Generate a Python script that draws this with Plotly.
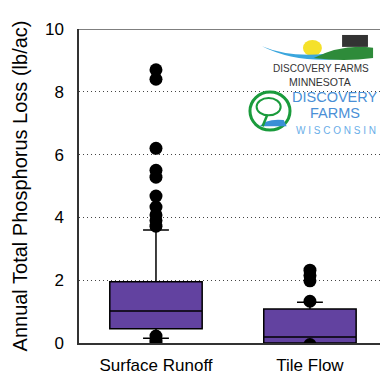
import plotly.graph_objects as go

categories = ["Surface Runoff", "Tile Flow"]
q1 = [0.45, 0.0]
median = [1.02, 0.19]
q3 = [1.95, 1.08]
lower_whisker = [0.15, 0.0]
upper_whisker = [3.6, 1.3]

outliers_surface = [8.7, 8.4, 6.2, 5.5, 5.28, 4.68, 4.33, 4.08, 3.9, 3.72, 0.22, 0.1, 0.02]
outliers_tile = [2.32, 2.15, 1.98, 1.33, -0.05]

y_ticks = [0, 2, 4, 6, 8, 10]

fig = go.Figure()
for i, c in enumerate(categories):
    fig.add_trace(go.Box(
        x=[c], q1=[q1[i]], median=[median[i]], q3=[q3[i]],
        lowerfence=[lower_whisker[i]], upperfence=[upper_whisker[i]],
        fillcolor="#6242a0", line=dict(color="black", width=1.5),
        width=0.6, whiskerwidth=0.28, boxpoints=False, showlegend=False,
    ))

fig.add_trace(go.Scatter(
    x=[categories[0]] * len(outliers_surface) + [categories[1]] * len(outliers_tile),
    y=outliers_surface + outliers_tile,
    mode="markers", marker=dict(color="black", size=13),
    showlegend=False, cliponaxis=True,
))

fig.update_layout(
    width=380, height=375,
    margin=dict(l=79, r=0, t=29, b=32),
    plot_bgcolor="white", paper_bgcolor="white",
    font=dict(family="Liberation Sans, Arial, sans-serif", color="black"),
    xaxis=dict(range=[-0.5, 1.455], showline=True, linecolor="#333", linewidth=1.5,
               ticks="", tickfont=dict(size=17), ticklabelstandoff=6, showgrid=False),
    yaxis=dict(range=[0, 10], tickvals=y_ticks, showline=True, linecolor="#333", linewidth=1.5,
               ticks="", tickfont=dict(size=17), ticklabelstandoff=10,
               showgrid=True, gridcolor="#444", griddash="1px,3px", gridwidth=1,
               zeroline=False,
               title=dict(text="Annual Total Phosphorus Loss (lb/ac)", font=dict(size=20), standoff=12)),
)

# top border
fig.add_shape(type="line", xref="paper", yref="y", x0=0, x1=1, y0=10, y1=10,
              line=dict(color="#555", width=1.5))

# logo approximation
P = dict(xref="paper", yref="paper")
fig.add_shape(type="circle", **P, x0=0.568, x1=0.701, y0=0.678, y1=0.799,
              line=dict(color="#1a9b3c", width=3), fillcolor="white")
fig.add_shape(type="path", **P,
              path="M 0.6 0.69 L 0.69 0.69 L 0.68 0.71 Q 0.62 0.715 0.6 0.69 Z",
              line=dict(width=0), fillcolor="#3a8fd6")
fig.add_shape(type="circle", **P, x0=0.59, x1=0.67, y0=0.725, y1=0.78,
              line=dict(color="#1a9b3c", width=2), fillcolor="white")
fig.add_shape(type="line", **P, x0=0.625, x1=0.61, y0=0.725, y1=0.69,
              line=dict(color="#1a9b3c", width=2.5))
fig.add_shape(type="circle", **P, x0=0.744, x1=0.807, y0=0.914, y1=0.965,
              line=dict(width=0), fillcolor="#f5e12a")
fig.add_shape(type="path", **P,
              path="M 0.608 0.945 Q 0.72 0.9 0.884 0.93 L 0.884 0.905 Q 0.72 0.89 0.608 0.945 Z",
              line=dict(width=0), fillcolor="#3aa6dd")
fig.add_shape(type="path", **P,
              path="M 0.78 0.908 Q 0.88 0.955 0.977 0.94 L 0.977 0.908 Q 0.88 0.895 0.78 0.908 Z",
              line=dict(width=0), fillcolor="#2e8b3a")
fig.add_shape(type="rect", **P, x0=0.874, x1=0.96, y0=0.943, y1=0.981,
              line=dict(width=0), fillcolor="#333")
fig.add_annotation(**P, x=0.804, y=0.874, xanchor="center", yanchor="middle",
                   text="DISCOVERY FARMS", showarrow=False,
                   font=dict(size=10, color="#333"))
fig.add_annotation(**P, x=0.802, y=0.832, xanchor="center", yanchor="middle",
                   text="MINNESOTA", showarrow=False,
                   font=dict(size=10.5, color="#333"))
fig.add_annotation(**P, x=0.85, y=0.782, xanchor="center", yanchor="middle",
                   text="DISCOVERY", showarrow=False,
                   font=dict(size=14.5, color="#4a8fd6"))
fig.add_annotation(**P, x=0.85, y=0.732, xanchor="center", yanchor="middle",
                   text="FARMS", showarrow=False,
                   font=dict(size=14.5, color="#4a8fd6"))
fig.add_annotation(**P, x=0.854, y=0.678, xanchor="center", yanchor="middle",
                   text="W I S C O N S I N", showarrow=False,
                   font=dict(size=10, color="#6aaee8"))

fig.write_html("out.html", config={"displayModeBar": False},
               post_script="document.body.style.margin='0';")
